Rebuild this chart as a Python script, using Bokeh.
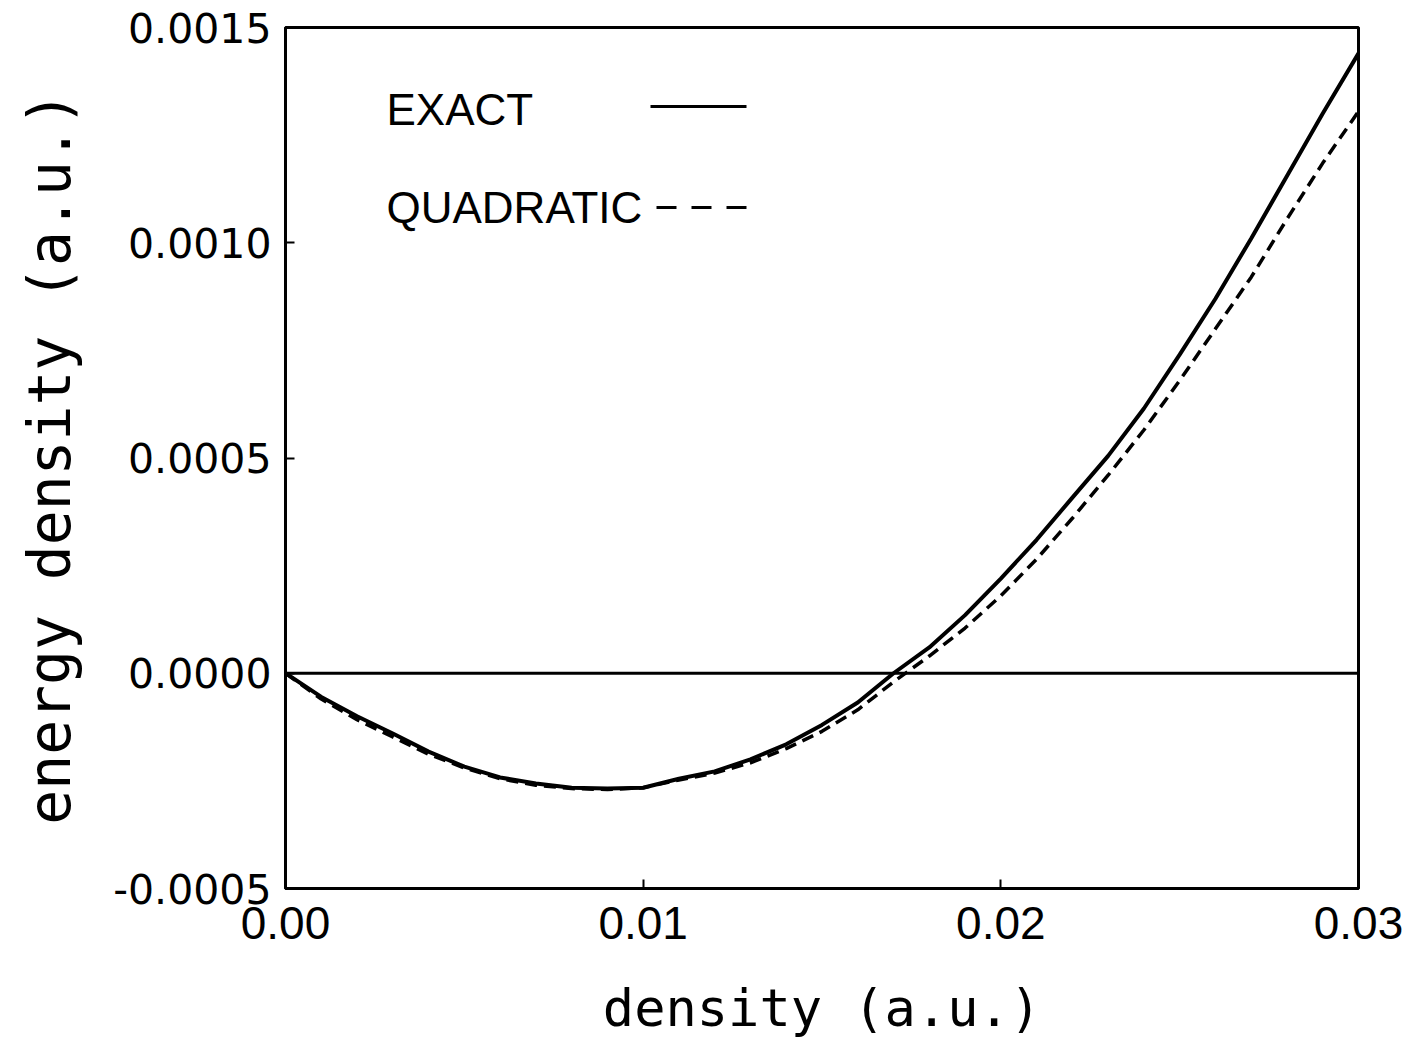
from bokeh.plotting import figure
from bokeh.models import Range1d, FixedTicker, NumeralTickFormatter, Span, Label, Arrow
from bokeh.embed import file_html
from bokeh.resources import INLINE

# ---- data ----
density = [0.000, 0.001, 0.002, 0.003, 0.004, 0.005, 0.006, 0.007, 0.008, 0.009,
           0.010, 0.011, 0.012, 0.013, 0.014, 0.015, 0.016, 0.017, 0.018, 0.019,
           0.020, 0.021, 0.022, 0.023, 0.024, 0.025, 0.026, 0.027, 0.028, 0.029, 0.030]
exact = [0.0, -0.55e-4, -1.00e-4, -1.40e-4, -1.82e-4, -2.17e-4, -2.42e-4, -2.56e-4, -2.66e-4, -2.68e-4,
         -2.66e-4, -2.45e-4, -2.28e-4, -2.00e-4, -1.65e-4, -1.20e-4, -0.68e-4, 0.0, 0.60e-4, 1.35e-4,
         2.20e-4, 3.10e-4, 4.08e-4, 5.05e-4, 6.15e-4, 7.40e-4, 8.70e-4, 10.10e-4, 11.55e-4, 13.00e-4, 14.40e-4]
quadratic = [0.0, -0.60e-4, -1.08e-4, -1.48e-4, -1.88e-4, -2.20e-4, -2.45e-4, -2.60e-4, -2.68e-4, -2.70e-4,
             -2.66e-4, -2.48e-4, -2.32e-4, -2.08e-4, -1.75e-4, -1.35e-4, -0.85e-4, -0.20e-4, 0.40e-4, 1.05e-4,
             1.80e-4, 2.65e-4, 3.60e-4, 4.60e-4, 5.65e-4, 6.80e-4, 8.00e-4, 9.20e-4, 10.55e-4, 11.85e-4, 13.05e-4]
x_ticks = [0.00, 0.01, 0.02, 0.03]
y_ticks = [-0.0005, 0.0000, 0.0005, 0.0010, 0.0015]
series_names = ["EXACT", "QUADRATIC"]
x_label = "density (a.u.)"
y_label = "energy density (a.u.)"

X0, X1 = 0.0, 0.03
Y0, Y1 = -0.0005, 0.0015
W, H = 1408, 1047
LEFT, RIGHT, TOP, BOTTOM = 285, 50, 27, 159
FW = W - LEFT - RIGHT
FH = H - TOP - BOTTOM

p = figure(width=W, height=H, x_range=Range1d(X0, X1), y_range=Range1d(Y0, Y1),
           output_backend="svg", toolbar_location=None,
           min_border_left=LEFT, min_border_right=RIGHT,
           min_border_top=TOP, min_border_bottom=BOTTOM)
p.title.visible = False
p.grid.visible = False
p.background_fill_color = "white"
p.border_fill_color = "white"
p.outline_line_color = "black"
p.outline_line_width = 3

for ax in (p.xaxis[0], p.yaxis[0]):
    ax.axis_line_width = 3
    ax.axis_line_color = "black"
    ax.major_tick_in = 9
    ax.major_tick_out = 0
    ax.major_tick_line_width = 2
    ax.minor_tick_line_color = None
    ax.major_label_text_color = "black"
    ax.axis_label_text_color = "black"
    ax.axis_label_text_font_style = "normal"

p.xaxis.ticker = FixedTicker(ticks=x_ticks)
p.xaxis.formatter = NumeralTickFormatter(format="0.00")
p.xaxis.major_label_text_font = "Liberation Sans"
p.xaxis.major_label_text_font_size = "46px"
p.xaxis.major_label_standoff = 18
p.xaxis.axis_label = x_label
p.xaxis.axis_label_text_font = "DejaVu Sans Mono"
p.xaxis.axis_label_text_font_size = "52px"
p.xaxis.axis_label_standoff = 36

p.yaxis.ticker = FixedTicker(ticks=y_ticks)
p.yaxis.formatter = NumeralTickFormatter(format="0.0000")
p.yaxis.major_label_text_font = "DejaVu Sans"
p.yaxis.major_label_text_font_size = "41px"
p.yaxis.major_label_standoff = 14
p.yaxis.axis_label = y_label
p.yaxis.axis_label_text_font = "DejaVu Sans Mono"
p.yaxis.axis_label_text_font_size = "58px"
p.yaxis.axis_label_standoff = 26

p.add_layout(Span(location=0, dimension="width", line_color="black", line_width=3))

p.line(density, exact, line_color="black", line_width=4)
p.line(density, quadratic, line_color="black", line_width=3.5, line_dash="12 7")

# legend placed by pixel offsets inside the frame
def fx(px):
    return X0 + (px - LEFT) / FW * (X1 - X0)

def fy(py):
    return Y1 - (py - TOP) / FH * (Y1 - Y0)

p.add_layout(Label(x=fx(386), y=fy(109), text=series_names[0], text_font="Liberation Sans",
                   text_font_size="44px", text_baseline="middle", text_color="black"))
p.add_layout(Label(x=fx(386), y=fy(207), text=series_names[1], text_font="Liberation Sans",
                   text_font_size="44px", text_baseline="middle", text_color="black"))
p.add_layout(Arrow(end=None, x_start=fx(650), y_start=fy(106), x_end=fx(746), y_end=fy(106),
                   line_color="black", line_width=3))
p.add_layout(Arrow(end=None, x_start=fx(656), y_start=fy(207), x_end=fx(746), y_end=fy(207),
                   line_color="black", line_width=3, line_dash="20 15"))

open("out.html", "w").write(file_html(p, INLINE))
